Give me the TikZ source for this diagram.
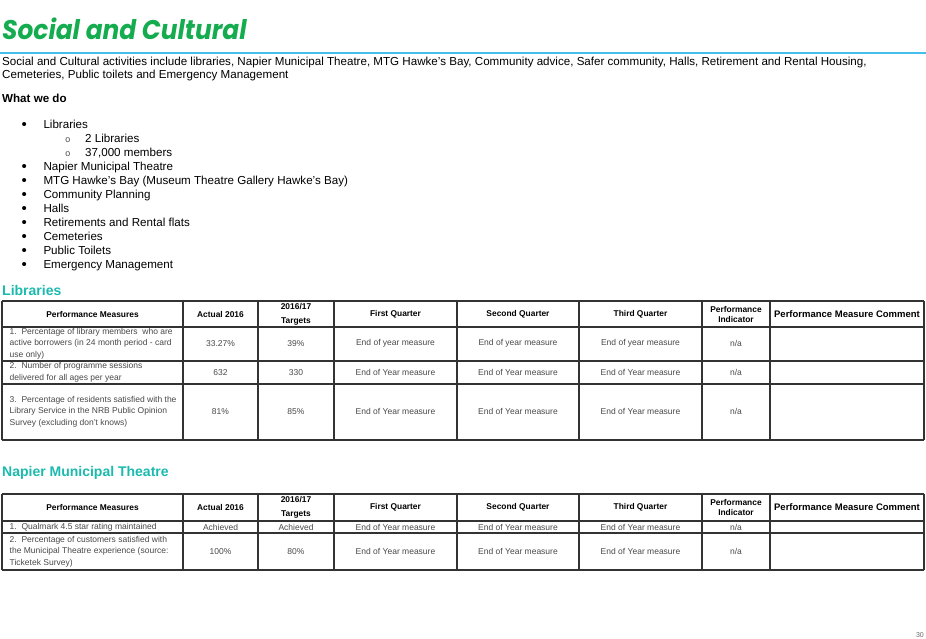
\documentclass[tikz,border=0pt]{standalone}
\usepackage{fontspec}
\setmainfont{Liberation Sans}
\newfontfamily\titlefont{Poppins}
\newfontfamily\subbulletfont{Liberation Mono}
\usetikzlibrary{positioning}

\definecolor{titlegreen}{RGB}{20,172,78}
\definecolor{headteal}{RGB}{26,186,174}
\definecolor{ruleblue}{RGB}{70,192,234}
\definecolor{celltext}{RGB}{72,72,72}

\tikzset{
  body/.style={anchor=base west, inner sep=0pt, font=\fontsize{11.6}{14}\selectfont},
  head/.style={anchor=base west, inner sep=0pt, text=headteal, font=\fontsize{14}{16}\selectfont\bfseries},
  hcell/.style={align=center, inner sep=0pt, font=\fontsize{8.4}{14}\selectfont\bfseries},
  cell/.style={align=center, inner sep=0pt, text=celltext, font=\fontsize{8.5}{11.6}\selectfont},
  mcell/.style={anchor=west, align=left, inner sep=0pt, text=celltext, font=\fontsize{8.5}{11.6}\selectfont},
  grid/.style={line width=1.4pt, draw=black!80},
}

% header row of a measures table: #1 centre y, #2 name prefix
\newcommand{\perfhead}[2]{%
  \node[hcell] (#2pm) at (92.5,#1) {Performance Measures};
  \node[hcell] (#2ac) at (220.5,#1) {Actual 2016};
  \node[hcell] (#2tg) at (296,#1) {2016/17\\Targets};
  \node[hcell] (#2q1) at (395.5,#1) {First Quarter};
  \node[hcell] (#2q2) at (518,#1) {Second Quarter};
  \node[hcell] (#2q3) at (640.5,#1) {Third Quarter};
  \node[hcell, font=\fontsize{8.4}{10}\selectfont\bfseries] (#2pi) at (736,#1) {Performance\\Indicator};
  \node[hcell, font=\fontsize{9.5}{11}\selectfont\bfseries] (#2pc) at (847,#1) {Performance Measure Comment};
}
% one data row: #1 centre y, #2 name, #3 measure, #4 actual, #5 target, #6 quarters
\newcommand{\perfrow}[6]{%
  \node[mcell] (#2m) at (9.5,#1) {#3};
  \node[cell] (#2a) at (220.5,#1) {#4};
  \node[cell] (#2t) at (296,#1) {#5};
  \node[cell] (#2q1) at (395.5,#1) {#6};
  \node[cell] (#2q2) at (518,#1) {#6};
  \node[cell] (#2q3) at (640.5,#1) {#6};
  \node[cell] (#2i) at (736,#1) {n/a};
}

\begin{document}
\begin{tikzpicture}[x=1pt, y=-1pt]
\useasboundingbox (0,0) rectangle (926,638);

% title and intro
\node[anchor=base west, inner sep=0pt, text=titlegreen, font=\titlefont\fontsize{27}{30}\selectfont\bfseries\itshape] (title) at (2,39.5) {\scalebox{0.92}[1]{Social and Cultural}};
\draw[ruleblue, line width=1.2pt] (0,53) -- (926,53);
\node[body] (intro1) at (2,65) {Social and Cultural activities include libraries, Napier Municipal Theatre, MTG Hawke's Bay, Community advice, Safer community, Halls, Retirement and Rental Housing,};
\node[body] (intro2) at (2,78.7) {Cemeteries, Public toilets and Emergency Management};
\node[body, font=\fontsize{11.6}{14}\selectfont\bfseries] (whatwedo) at (2,102) {What we do};

% bullet list
\foreach \t [count=\i] in {Libraries,,,Napier Municipal Theatre,MTG Hawke’s Bay (Museum Theatre Gallery Hawke’s Bay),Community Planning,Halls,Retirements and Rental flats,Cemeteries,Public Toilets,Emergency Management}{
  \ifx\t\empty\else
    \node[body, font=\fontsize{15}{15}\selectfont] (bul\i) at (21.5,115+14*\i) {•};
    \node[body] (item\i) at (43.3,114.3+14*\i) {\t};
  \fi
}
\node[body, font=\subbulletfont\fontsize{9}{11}\selectfont, text=black!70] (sub1) at (65,142.4) {o};
\node[body] (subitem1) at (85,142.4) {2 Libraries};
\node[body, font=\subbulletfont\fontsize{9}{11}\selectfont, text=black!70] (sub2) at (65,156.4) {o};
\node[body] (subitem2) at (85,156.4) {37,000 members};

% libraries table
\node[head] (libhead) at (2,295) {Libraries};
\foreach \x in {2,183,258,334,457,579,702,770,924} \draw[grid] (\x,301) -- (\x,440);
\foreach \y in {301,327,361,384,440} \draw[grid] (2,\y) -- (924,\y);
\perfhead{314}{lib}
\perfrow{343.5}{libA}{1.\ \ Percentage of library members\ \ who are\\active borrowers (in 24 month period - card\\use only)}{33.27\%}{39\%}{End of year measure}
\perfrow{372.5}{libB}{2.\ \ Number of programme sessions\\delivered for all ages per year}{632}{330}{End of Year measure}
\perfrow{411.5}{libC}{3.\ \ Percentage of residents satisfied with the\\Library Service in the NRB Public Opinion\\Survey (excluding don't knows)}{81\%}{85\%}{End of Year measure}

% theatre table
\node[head] (nmthead) at (2,476.5) {Napier Municipal Theatre};
\foreach \x in {2,183,258,334,457,579,702,770,924} \draw[grid] (\x,494) -- (\x,570);
\foreach \y in {494,521,533,570} \draw[grid] (2,\y) -- (924,\y);
\perfhead{507.5}{nmt}
\perfrow{527}{nmtA}{1.\ \ Qualmark 4.5 star rating maintained}{Achieved}{Achieved}{End of Year measure}
\perfrow{551.5}{nmtB}{2.\ \ Percentage of customers satisfied with\\the Municipal Theatre experience (source:\\Ticketek Survey)}{100\%}{80\%}{End of Year measure}

% page number
\node[anchor=base east, inner sep=0pt, text=black!60, font=\fontsize{7}{8}\selectfont] (pageno) at (924,637) {30};
\end{tikzpicture}
\end{document}
